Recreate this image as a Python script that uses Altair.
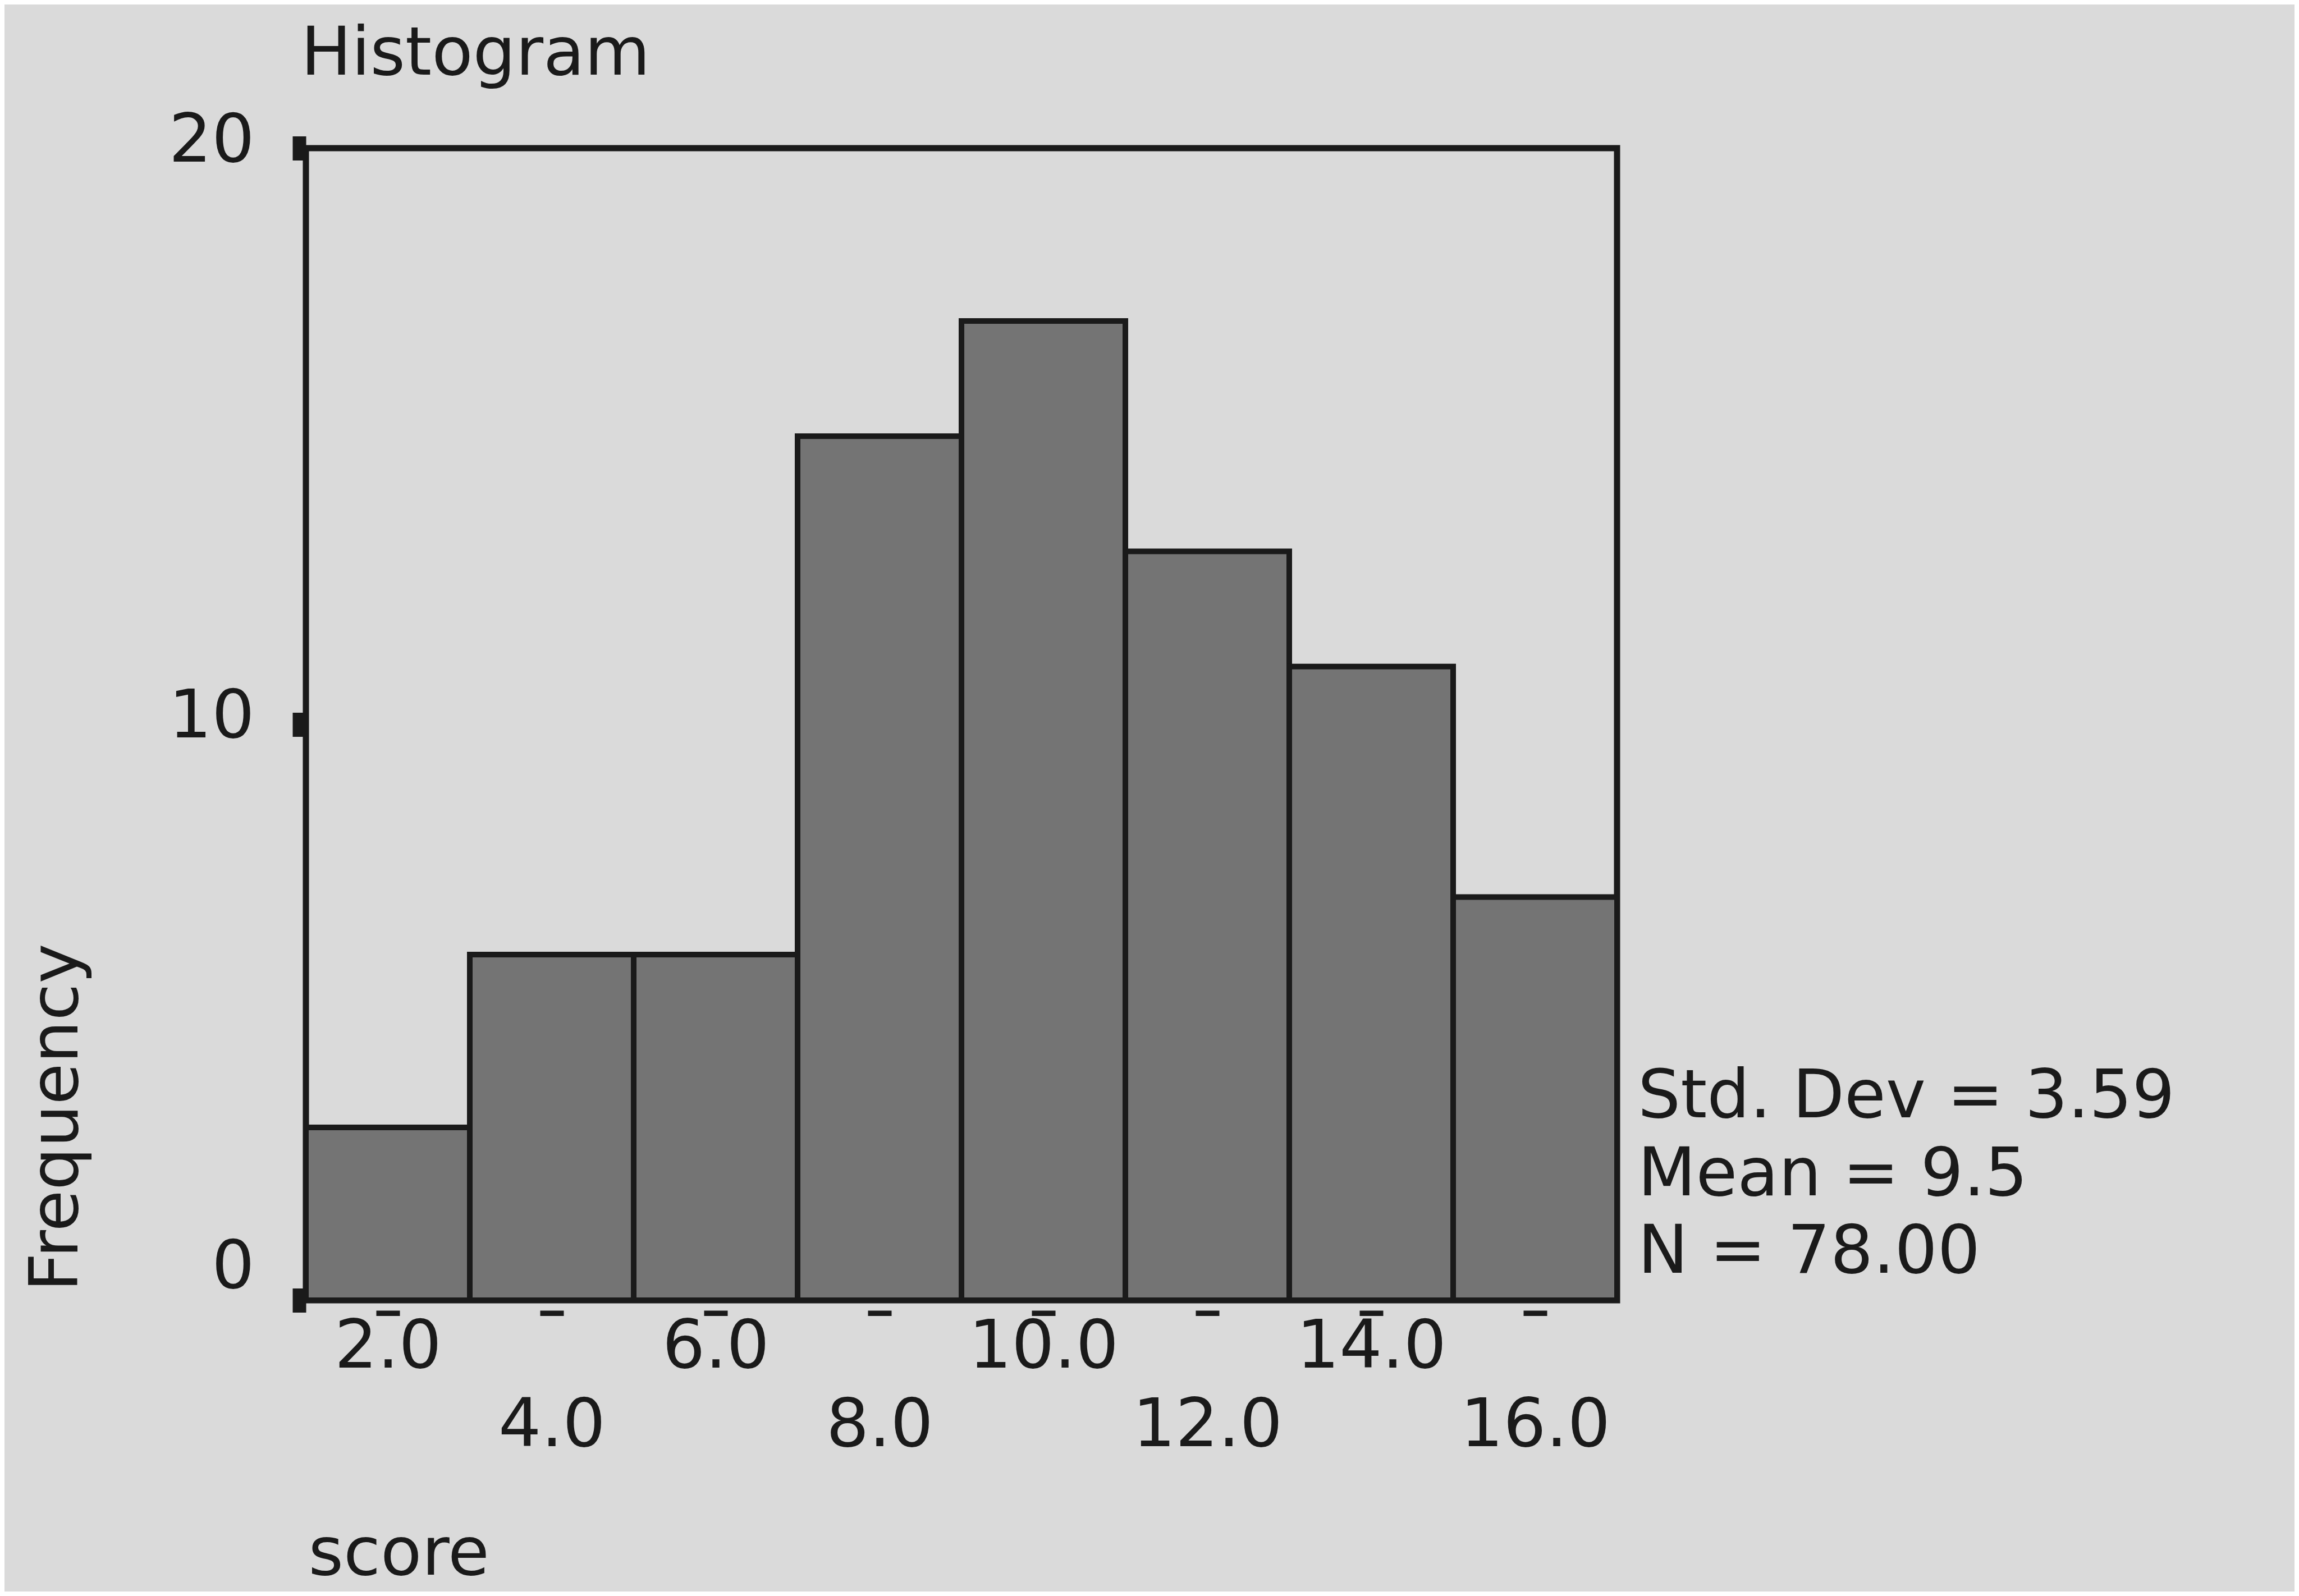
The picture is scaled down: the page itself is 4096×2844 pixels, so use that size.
import altair as alt
import pandas as pd

# ---- data ----
bin_lo = [1, 3, 5, 7, 9, 11, 13, 15]
bin_hi = [3, 5, 7, 9, 11, 13, 15, 17]
counts = [3, 6, 6, 15, 17, 13, 11, 7]
x_ticks = [2, 4, 6, 8, 10, 12, 14, 16]
y_ticks = [0, 10, 20]
stats_lines = ["Std. Dev = 3.59", "Mean = 9.5", "N = 78.00"]
title_text = "Histogram"
x_title = "score"
y_title = "Frequency"

df = pd.DataFrame({"lo": bin_lo, "hi": bin_hi, "count": counts})

FONT = "DejaVu Sans"
FS = 120
INK = "#1a1a1a"
BG = "#dadada"
BAR = "#747474"

x_scale = alt.Scale(domain=[1, 17], nice=False, zero=False)
y_scale = alt.Scale(domain=[0, 20], nice=False)

x_axis = alt.Axis(
    values=x_ticks, format=".1f", title=x_title, domain=False, grid=False,
    offset=18, tickSize=9.5, tickWidth=42, tickColor=INK,
    labelPadding={"condition": {"test": "datum.value % 4 == 2", "value": -3}, "value": 137},
    labelFont=FONT, labelFontSize=FS, labelColor=INK, labelBaseline="top",
    labelOverlap=False, labelFlush=False, labelBound=False, labelLimit=0,
    titleFont=FONT, titleFontSize=FS, titleFontWeight="normal", titleColor=INK,
    titleX=4, titleY=470, titleAlign="left", titleBaseline="alphabetic",
)

y_axis = alt.Axis(
    values=y_ticks, format="d", title=y_title, domain=False, grid=False,
    tickSize=24, tickWidth=43, tickColor=INK, labelPadding=68,
    labelOffset={"condition": {"test": "datum.value == 0", "value": -59}, "value": -13},
    labelFont=FONT, labelFontSize=FS, labelColor=INK, labelBaseline="middle",
    labelOverlap=False, labelFlush=False, labelBound=False, labelLimit=0,
    titleFont=FONT, titleFontSize=FS, titleFontWeight="normal", titleColor=INK,
    titleX=-408, titleY=2037, titleAngle=270, titleAlign="left", titleBaseline="alphabetic",
)

bars = alt.Chart(df).mark_rect(fill=BAR, stroke=INK, strokeWidth=10).encode(
    x=alt.X("lo:Q", scale=x_scale, axis=x_axis),
    x2="hi:Q",
    y=alt.Y("count:Q", scale=y_scale, axis=y_axis),
    y2=alt.datum(0),
)

one = pd.DataFrame({"k": [0]})

stats = alt.Chart(one).mark_text(
    align="left", baseline="top", dx=37, dy=-421, lineHeight=138.5,
    font=FONT, fontSize=FS, color=INK,
).encode(
    x=alt.datum(17),
    y=alt.datum(0),
    text=alt.value(stats_lines),
)

title = alt.Chart(one).mark_text(
    align="left", baseline="alphabetic", dx=-9, dy=-131,
    font=FONT, fontSize=FS, color=INK,
).encode(
    x=alt.datum(1),
    y=alt.datum(20),
    text=alt.value(title_text),
)

chart = alt.layer(bars, stats, title).properties(
    width=2336,
    height=2053,
    background=BG,
    padding={"left": 537, "top": 256, "right": 1207, "bottom": 519},
    autosize=alt.AutoSizeParams(type="none"),
).configure_view(stroke=INK, strokeWidth=11)

chart.save("out.html", embed_options={"renderer": "svg", "actions": False})
